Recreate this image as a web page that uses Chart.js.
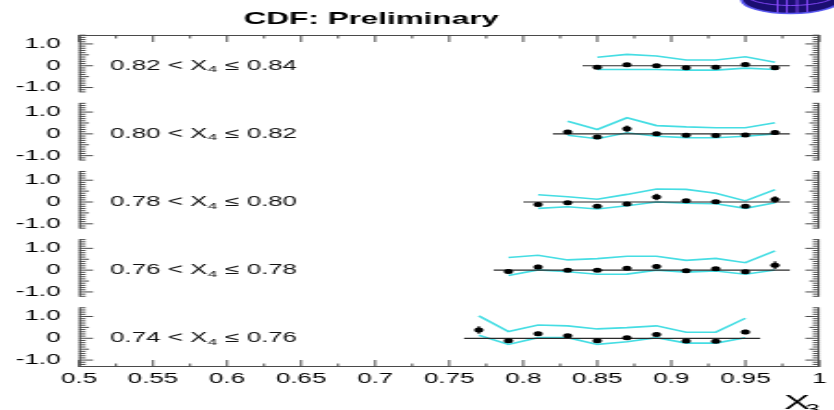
<!DOCTYPE html>
<html>
<head>
<meta charset="utf-8">
<script src="https://cdn.jsdelivr.net/npm/chart.js@4.4.1/dist/chart.umd.min.js"></script>
<style>
html,body{margin:0;padding:0;background:#fff;overflow:hidden;}
#wrap{width:451px;height:410px;transform:scaleX(1.849224);transform-origin:0 0;}
canvas{display:block;}
</style>
</head>
<body>
<div id="wrap"><canvas id="c" width="451" height="410"></canvas></div>
<script>
// ---------------- data ----------------
const titleText = 'CDF: Preliminary';
const xAxisTitle = 'X';
const xAxisTitleSub = '3';
const x4Low  = ['0.82', '0.80', '0.78', '0.76', '0.74'];
const x4High = ['0.84', '0.82', '0.80', '0.78', '0.76'];

const xTickValues = [0.5, 0.55, 0.6, 0.65, 0.7, 0.75, 0.8, 0.85, 0.9, 0.95, 1];
const xTickLabels = ['0.5', '0.55', '0.6', '0.65', '0.7', '0.75', '0.8', '0.85', '0.9', '0.95', '1'];
const yTickValues = [-1, 0, 1];
const yTickLabels = ['-1.0', '0', '1.0'];
const halfBin = 0.01;

// panel 1 : 0.82 < X4 <= 0.84
const x3_p1   = [0.85, 0.87, 0.89, 0.91, 0.93, 0.95, 0.97];
const val_p1  = [-0.07, 0.05, 0.00, -0.09, -0.07, 0.06, -0.09];
const err_p1  = [0.07, 0.08, 0.07, 0.07, 0.07, 0.08, 0.08];
const hi_p1   = [0.39, 0.52, 0.45, 0.26, 0.26, 0.41, 0.16];
const lo_p1   = [-0.17, -0.17, -0.17, -0.20, -0.20, -0.11, -0.17];

// panel 2 : 0.80 < X4 <= 0.82
const x3_p2   = [0.83, 0.85, 0.87, 0.89, 0.91, 0.93, 0.95, 0.97];
const val_p2  = [0.09, -0.14, 0.23, 0.00, -0.06, -0.07, -0.05, 0.06];
const err_p2  = [0.08, 0.08, 0.15, 0.07, 0.07, 0.07, 0.07, 0.10];
const hi_p2   = [0.58, 0.20, 0.74, 0.38, 0.32, 0.28, 0.28, 0.51];
const lo_p2   = [-0.06, -0.22, 0.05, -0.11, -0.17, -0.18, -0.11, 0.00];

// panel 3 : 0.78 < X4 <= 0.80
const x3_p3   = [0.81, 0.83, 0.85, 0.87, 0.89, 0.91, 0.93, 0.95, 0.97];
const val_p3  = [-0.11, -0.03, -0.20, -0.09, 0.23, 0.06, 0.01, -0.20, 0.12];
const err_p3  = [0.08, 0.07, 0.07, 0.08, 0.15, 0.08, 0.07, 0.08, 0.15];
const hi_p3   = [0.33, 0.24, 0.13, 0.35, 0.60, 0.58, 0.40, 0.05, 0.57];
const lo_p3   = [-0.29, -0.22, -0.32, -0.17, 0.00, -0.06, -0.08, -0.29, -0.03];

// panel 4 : 0.76 < X4 <= 0.78
const x3_p4   = [0.79, 0.81, 0.83, 0.85, 0.87, 0.89, 0.91, 0.93, 0.95, 0.97];
const val_p4  = [-0.06, 0.15, 0.00, 0.00, 0.09, 0.17, -0.03, 0.07, -0.07, 0.23];
const err_p4  = [0.08, 0.10, 0.08, 0.08, 0.08, 0.10, 0.08, 0.08, 0.08, 0.18];
const hi_p4   = [0.58, 0.68, 0.47, 0.53, 0.64, 0.64, 0.45, 0.54, 0.34, 0.88];
const lo_p4   = [-0.25, 0.01, -0.07, -0.19, -0.18, 0.00, -0.09, -0.04, -0.19, 0.01];

// panel 5 : 0.74 < X4 <= 0.76
const x3_p5   = [0.77, 0.79, 0.81, 0.83, 0.85, 0.87, 0.89, 0.91, 0.93, 0.95];
const val_p5  = [0.38, -0.11, 0.21, 0.12, -0.11, 0.02, 0.17, -0.12, -0.13, 0.29];
const err_p5  = [0.17, 0.08, 0.09, 0.08, 0.08, 0.08, 0.08, 0.08, 0.08, 0.10];
const hi_p5   = [1.03, 0.31, 0.61, 0.57, 0.43, 0.49, 0.57, 0.28, 0.28, 0.92];
const lo_p5   = [0.14, -0.28, 0.03, 0.03, -0.28, -0.16, 0.03, -0.22, -0.22, 0.03];

// ---------------- styling / layout ----------------
const FONT = '"Liberation Sans", Arial, Helvetica, sans-serif';
const CYAN = '#45dde3';
const FRAME = '#4a4a4a';
const panelMin = [-1.463, -1.463, -1.463, -1.463, -1.317];
const panelMax = [1.41, 1.663, 1.663, 1.663, 1.663];
const axisTop = 1.4, axisBottom = -1.2;

const panels = [
  {x: x3_p1, v: val_p1, e: err_p1, hi: hi_p1, lo: lo_p1},
  {x: x3_p2, v: val_p2, e: err_p2, hi: hi_p2, lo: lo_p2},
  {x: x3_p3, v: val_p3, e: err_p3, hi: hi_p3, lo: lo_p3},
  {x: x3_p4, v: val_p4, e: err_p4, hi: hi_p4, lo: lo_p4},
  {x: x3_p5, v: val_p5, e: err_p5, hi: hi_p5, lo: lo_p5}
];

const datasets = [];
const scales = {
  x: {
    type: 'linear', position: 'bottom', min: 0.5, max: 1,
    grid: {display: false, drawTicks: false}, border: {display: false},
    afterBuildTicks: s => { s.ticks = xTickValues.map(v => ({value: v})); },
    ticks: {
      autoSkip: false, maxRotation: 0, padding: 4, color: '#000',
      font: {family: FONT, size: 14},
      callback: (v) => { const i = xTickValues.findIndex(t => Math.abs(t - v) < 1e-9); return i >= 0 ? xTickLabels[i] : ''; }
    },
    afterFit: s => { s.height = 43; }
  }
};

panels.forEach((p, k) => {
  const id = 'y' + k;
  scales[id] = {
    type: 'linear', axis: 'y', position: 'left', stack: 'panels',
    stackWeight: panelMax[k] - panelMin[k], weight: 10 - k,
    min: panelMin[k], max: panelMax[k],
    grid: {display: false, drawTicks: false}, border: {display: false},
    afterBuildTicks: s => { s.ticks = yTickValues.map(v => ({value: v})); },
    ticks: {
      autoSkip: false, padding: 10, color: '#000', font: {family: FONT, size: 14},
      callback: (v) => { const i = yTickValues.findIndex(t => Math.abs(t - v) < 1e-9); return i >= 0 ? yTickLabels[i] : ''; }
    },
    afterFit: s => { s.width = 42.7; }
  };
  datasets.push({
    label: 'upper' + k, yAxisID: id, showLine: true, order: 3,
    data: p.x.map((x, i) => ({x: x, y: p.hi[i]})),
    borderColor: CYAN, borderWidth: 1.6, pointRadius: 0, fill: false, tension: 0
  });
  datasets.push({
    label: 'lower' + k, yAxisID: id, showLine: true, order: 3,
    data: p.x.map((x, i) => ({x: x, y: p.lo[i]})),
    borderColor: CYAN, borderWidth: 1.6, pointRadius: 0, fill: false, tension: 0
  });
  datasets.push({
    label: 'zero' + k, yAxisID: id, showLine: true, order: 2,
    data: [{x: p.x[0] - halfBin, y: 0}, {x: p.x[p.x.length - 1] + halfBin, y: 0}],
    borderColor: '#2a2a2a', borderWidth: 1.2, pointRadius: 0, fill: false
  });
  datasets.push({
    label: 'data' + k, yAxisID: id, showLine: false, order: 0,
    data: p.x.map((x, i) => ({x: x, y: p.v[i]})),
    errors: p.e,
    backgroundColor: '#000', borderColor: '#000', borderWidth: 0,
    pointRadius: 2.5, pointStyle: 'circle'
  });
});

// ---------------- plugins ----------------
function seg(ctx, x1, y1, x2, y2) { ctx.beginPath(); ctx.moveTo(x1, y1); ctx.lineTo(x2, y2); ctx.stroke(); }

const errorBars = {
  id: 'errorBars',
  afterDatasetsDraw(chart) {
    const ctx = chart.ctx;
    ctx.save();
    ctx.strokeStyle = '#000';
    ctx.lineWidth = 1.2;
    chart.data.datasets.forEach((ds) => {
      if (!ds.errors) return;
      const ys = chart.scales[ds.yAxisID];
      ds.data.forEach((pt, i) => {
        const px = chart.scales.x.getPixelForValue(pt.x);
        seg(ctx, px, ys.getPixelForValue(pt.y + ds.errors[i]), px, ys.getPixelForValue(pt.y - ds.errors[i]));
      });
    });
    ctx.restore();
  }
};

const decor = {
  id: 'decor',
  afterDraw(chart) {
    const ctx = chart.ctx;
    const a = chart.chartArea;
    const xs = chart.scales.x;
    ctx.save();
    ctx.strokeStyle = FRAME;
    ctx.lineWidth = 1;
    // top / bottom frame lines
    seg(ctx, a.left, a.top + 0.5, a.right, a.top + 0.5);
    seg(ctx, a.left, a.bottom - 0.5, a.right, a.bottom - 0.5);
    // x ticks, top and bottom
    for (let i = 0; i <= 20; i++) {
      const v = 0.5 + i * 0.025;
      const px = xs.getPixelForValue(v);
      const len = (i % 2 === 0) ? 7 : 3.5;
      seg(ctx, px, a.bottom, px, a.bottom - len);
      seg(ctx, px, a.top, px, a.top + len);
    }
    // y axes per panel, left and right
    for (let k = 0; k < panels.length; k++) {
      const s = chart.scales['y' + k];
      const top = k === 0 ? a.top : s.getPixelForValue(axisTop);
      const bot = k === panels.length - 1 ? a.bottom : s.getPixelForValue(axisBottom);
      seg(ctx, a.left + 0.5, top, a.left + 0.5, bot);
      seg(ctx, a.right - 0.5, top, a.right - 0.5, bot);
      for (let j = -12; j <= 14; j++) {
        const py = s.getPixelForValue(j / 10);
        if (py < a.top || py > a.bottom) continue;
        const len = (j % 10 === 0) ? 7.6 : (j % 5 === 0 ? 5.4 : 3.6);
        seg(ctx, a.left, py, a.left + len, py);
        seg(ctx, a.right, py, a.right - len, py);
      }
    }
    // panel labels
    ctx.fillStyle = '#111';
    ctx.textBaseline = 'middle';
    ctx.textAlign = 'left';
    for (let k = 0; k < panels.length; k++) {
      const s = chart.scales['y' + k];
      const py = s.getPixelForValue(0);
      let x = a.left + 16.8;
      ctx.font = '14px ' + FONT;
      const part1 = x4Low[k] + ' < X';
      ctx.fillText(part1, x, py);
      x += ctx.measureText(part1).width;
      ctx.font = '9.5px ' + FONT;
      ctx.fillText('4', x + 0.3, py + 4);
      x += ctx.measureText('4').width + 0.6;
      ctx.font = '14px ' + FONT;
      ctx.fillText(' \u2264 ' + x4High[k], x, py);
    }
    // title
    ctx.font = 'bold 17px ' + FONT;
    ctx.textAlign = 'center';
    ctx.textBaseline = 'alphabetic';
    ctx.fillStyle = '#000';
    ctx.fillText(titleText, a.left + 0.3948 * (a.right - a.left), 23.5);
    // x axis title
    ctx.textAlign = 'left';
    ctx.font = '21px ' + FONT;
    ctx.fillText(xAxisTitle, a.right - 19, 408.5);
    ctx.font = '14px ' + FONT;
    ctx.fillText(xAxisTitleSub, a.right - 7.5, 414);
    // logo in the top-right corner
    const cx = a.left + 0.9611 * (a.right - a.left), cy = -0.5, rx = 26.5, ry = 14;
    ctx.beginPath();
    ctx.ellipse(cx, cy, rx, ry, 0, 0, Math.PI * 2);
    ctx.fillStyle = '#1b0e72';
    ctx.fill();
    ctx.save();
    ctx.clip();
    ctx.strokeStyle = '#8a4cff';
    ctx.lineWidth = 0.9;
    [-7, -2, 3.5, 9].forEach(dx => seg(ctx, cx + dx, cy - ry, cx + dx, cy + ry));
    ctx.beginPath();
    ctx.ellipse(cx, cy - 6, rx * 0.95, 12, 0, 0, Math.PI);
    ctx.stroke();
    ctx.restore();
    ctx.beginPath();
    ctx.ellipse(cx, cy, rx, ry, 0, 0, Math.PI * 2);
    ctx.strokeStyle = '#5a58f0';
    ctx.lineWidth = 1.6;
    ctx.stroke();
    ctx.restore();
  }
};

new Chart(document.getElementById('c'), {
  type: 'scatter',
  data: {datasets: datasets},
  options: {
    responsive: false,
    devicePixelRatio: 1,
    animation: false,
    events: [],
    layout: {padding: {top: 35, right: 5, left: 0, bottom: 0}},
    plugins: {legend: {display: false}, tooltip: {enabled: false}, title: {display: false}},
    scales: scales
  },
  plugins: [errorBars, decor]
});
</script>
</body>
</html>
